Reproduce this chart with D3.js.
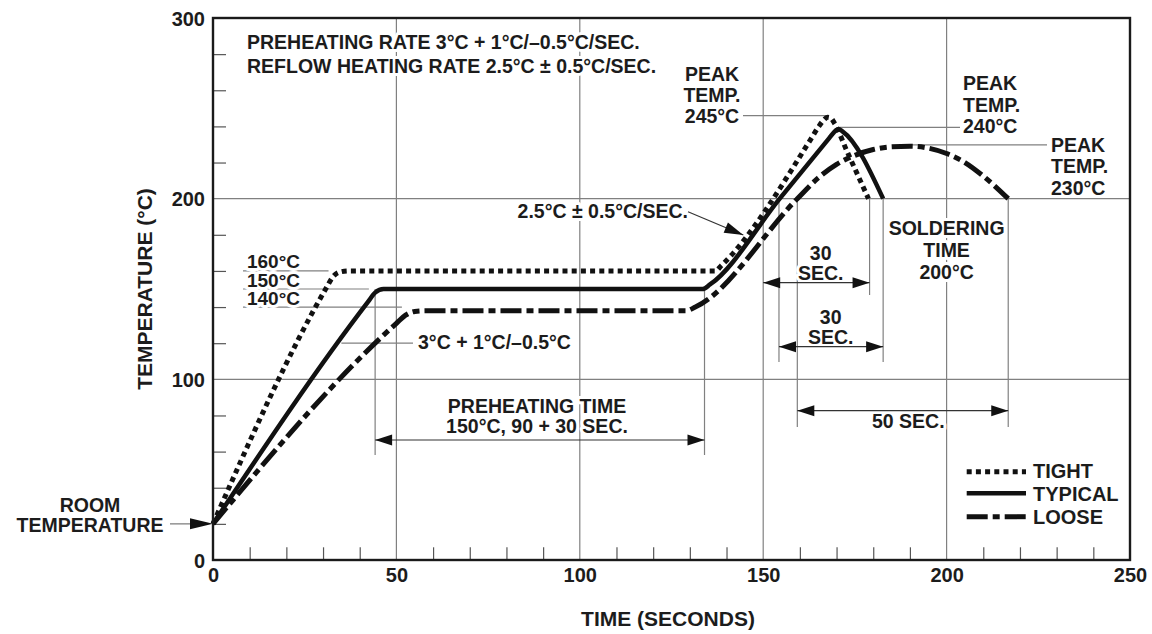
<!DOCTYPE html>
<html><head><meta charset="utf-8">
<script src="https://cdn.jsdelivr.net/npm/d3@7"></script>
<style>
body{margin:0;background:#fff}
text{font-family:"Liberation Sans",Arial,Helvetica,sans-serif;font-weight:bold;fill:#1c1c1c}
.halo{paint-order:stroke;stroke:#fff;stroke-width:6px;stroke-linejoin:round}
</style></head>
<body><svg id="c" width="1152" height="634"></svg>
<script>
// ---- data ----
const xTickLabels=[0,50,100,150,200,250];
const yTickLabels=[0,100,200,300];
const xMinor=[10,20,30,40,60,70,80,90,110,120,130,140,160,170,180,190,210,220,230,240];
const yMinor=[20,40,60,80,120,140,160,180,220,240,260,280];
const seriesNames=["TIGHT","TYPICAL","LOOSE"];
const tight=[[0,20],[31,151],[32.6,156.5],[34.5,159.3],[37,160],[137,160],[138.6,163],[163,233],[165,239.5],[166.5,243.5],[167.5,245],[168.5,244.5],[169.5,241.5],[172.7,226.9],[178.7,200]];
const typical=[[0,20],[42.3,143],[44.2,148],[46.5,150],[50,150],[133.5,150],[135.5,152.5],[154.5,200],[168,233.5],[169.4,237],[170.5,238.6],[171.6,237.3],[182.7,200]];
const loose=[[0,20],[50,131],[52.5,135.5],[55,137.6],[58,138],[129,138],[131.5,140],[159.3,200],[165,211.5],[170,219],[175,224],[180,227.2],[185,228.7],[190,229],[195,228],[200,225],[205,220],[210,212.5],[216.8,200]];
const roomTemp=20;
const peakLabels=[["PEAK","TEMP.","245°C"],["PEAK","TEMP.","240°C"],["PEAK","TEMP.","230°C"]];
const peakLeaderTemp=[246,239.5,229.8];

// ---- layout ----
const svg=d3.select("#c");
const x=d3.scaleLinear().domain([0,250]).range([213,1130]);
const y=d3.scaleLinear().domain([0,300]).range([560,18]);
const gray="#808080";

// gridlines
const grid=svg.append("g").attr("stroke",gray).attr("stroke-width",1.2);
[50,100,150,200].forEach(v=>grid.append("line").attr("x1",x(v)).attr("x2",x(v)).attr("y1",y(0)).attr("y2",y(300)));
[100,200].forEach(v=>grid.append("line").attr("y1",y(v)).attr("y2",y(v)).attr("x1",x(0)).attr("x2",x(250)));

// minor ticks (inward)
const gxm=svg.append("g").attr("transform",`translate(0,${y(0)})`)
  .call(d3.axisBottom(x).tickValues(xMinor).tickSize(-12.7).tickFormat(""));
gxm.select(".domain").remove();
gxm.selectAll("line").attr("stroke","#555").attr("stroke-width",1.2);
const gym=svg.append("g").attr("transform",`translate(${x(0)},0)`)
  .call(d3.axisLeft(y).tickValues(yMinor).tickSize(-13).tickFormat(""));
gym.select(".domain").remove();
gym.selectAll("line").attr("stroke","#555").attr("stroke-width",1.2);

// tick labels
const gx=svg.append("g").attr("transform",`translate(0,${y(0)})`)
  .call(d3.axisBottom(x).tickValues(xTickLabels).tickSize(0).tickPadding(22).tickFormat(d3.format("d")));
gx.select(".domain").remove();
gx.selectAll("text").style("font-size","20px").attr("fill","#1c1c1c").attr("dy","0");
const gy=svg.append("g").attr("transform",`translate(${x(0)},0)`)
  .call(d3.axisLeft(y).tickValues(yTickLabels).tickSize(0).tickPadding(8).tickFormat(d3.format("d")));
gy.select(".domain").remove();
gy.selectAll("text").style("font-size","20px").attr("fill","#1c1c1c").attr("dy","0.36em");

// axis titles
svg.append("text").attr("x",668).attr("y",626).attr("text-anchor","middle").style("font-size","21px").text("TIME (SECONDS)");
svg.append("text").attr("transform",`translate(152,${(y(0)+y(300))/2}) rotate(-90)`).attr("text-anchor","middle").style("font-size","21px").text("TEMPERATURE (°C)");

// helpers
function head(g,x1,y1,x2,y2,len=17,hw=5.5){
  const a=Math.atan2(y2-y1,x2-x1),c=Math.cos(a),s=Math.sin(a);
  const bx=x2-len*c,by=y2-len*s;
  g.append("path").attr("d",`M${x2},${y2}L${bx-hw*s},${by+hw*c}L${bx+hw*s},${by-hw*c}Z`).attr("fill","#111");
}
function vline(t,y1v,y2px){svg.append("line").attr("x1",x(t)).attr("x2",x(t)).attr("y1",y(y1v)).attr("y2",y2px).attr("stroke",gray).attr("stroke-width",1.2);}
function hline(x1,x2,yy){svg.append("line").attr("x1",x1).attr("x2",x2).attr("y1",yy).attr("y2",yy).attr("stroke",gray).attr("stroke-width",1.2);}
function label(lines,cx,baselines,anchor="middle",size=19.5){
  return lines.map((t,i)=>svg.append("text").attr("class","halo").attr("x",cx).attr("y",baselines[i]).attr("text-anchor",anchor).style("font-size",size+"px").text(t));
}

// dimension vertical lines
vline(44.2,150,455); vline(134,150,455);
vline(154.3,200,362); vline(182.7,200,362);
vline(159.3,200,427); vline(216.8,200,427);
vline(179,200,295);

// leader lines for preheat levels
hline(243,x(31.5),y(160)); hline(243,x(42.5),y(150)); hline(243,x(51.5),y(140));
hline(x(35),413,y(120));
// peak leaders
hline(743,x(167.3),y(peakLeaderTemp[0]));
hline(x(170.8),960,y(peakLeaderTemp[1]));
hline(x(190.5),1047,y(peakLeaderTemp[2]));

// curves
const line=d3.line().x(d=>x(d[0])).y(d=>y(d[1])).curve(d3.curveMonotoneX);
const styles=[{d:tight,dash:"5,4.2",w:5},{d:typical,dash:null,w:4.5},{d:loose,dash:"21,5,7,5",w:5}];
styles.forEach(s=>svg.append("path").datum(s.d).attr("d",line).attr("fill","none")
  .attr("stroke","#111").attr("stroke-width",s.w).attr("stroke-dasharray",s.dash).attr("stroke-linecap","butt").attr("stroke-linejoin","round"));

// texts
label(["PREHEATING RATE 3°C + 1°C/–0.5°C/SEC.","REFLOW HEATING RATE 2.5°C ± 0.5°C/SEC."],247,[49.3,73.3],"start");
label(["160°C","150°C","140°C"],247,[268.3,286.7,305],"start",17.5).forEach(t=>t.attr("textLength",53).attr("lengthAdjust","spacingAndGlyphs"));
label(["3°C + 1°C/–0.5°C"],418,[349.3],"start");
label(["PREHEATING TIME","150°C, 90 + 30 SEC."],537,[413.3,433.3]);
label(peakLabels[0],712,[80.7,101.7,122.7]);
label(peakLabels[1],963,[90,111.7,132.7],"start");
label(peakLabels[2],1051,[151.7,173.3,195],"start");
label(["2.5°C ± 0.5°C/SEC."],688,[218],"end");
label(["SOLDERING","TIME","200°C"],x(200),[235,257.3,279]);
label(["30","SEC."],820.7,[260,280]);
label(["30","SEC."],830.7,[324,344]);
label(["50 SEC."],908.3,[428]);
label(["ROOM","TEMPERATURE"],90,[511.7,532.3]);

// arrows
const ag=svg.append("g");
function dim(t1,t2,yy){
  ag.append("line").attr("x1",x(t1)).attr("x2",x(t2)).attr("y1",yy).attr("y2",yy).attr("stroke","#333").attr("stroke-width",1.2);
  head(ag,x(t2),yy,x(t1),yy); head(ag,x(t1),yy,x(t2),yy);
}
dim(44.2,134,440);
dim(150,179,282.7);
dim(154.3,182.7,346.7);
dim(159.3,216.8,410.7);
// 2.5 arrow
ag.append("line").attr("x1",688).attr("y1",211.7).attr("x2",743.3).attr("y2",235).attr("stroke","#333").attr("stroke-width",1.2);
head(ag,688,211.7,743.3,235,19,5.5);
// room temp arrow
ag.append("line").attr("x1",170).attr("x2",200).attr("y1",y(roomTemp)).attr("y2",y(roomTemp)).attr("stroke",gray).attr("stroke-width",1.3);
head(ag,170,y(roomTemp),x(0),y(roomTemp),23,5.5);

// legend
const lg=svg.append("g");
const legY=[471.7,493.3,516.7], legT=[478.3,501,524];
styles.forEach((s,i)=>{
  lg.append("line").attr("x1",966.7).attr("x2",1026).attr("y1",legY[i]).attr("y2",legY[i])
    .attr("stroke","#111").attr("stroke-width",s.w).attr("stroke-dasharray",s.dash);
  lg.append("text").attr("x",1033).attr("y",legT[i]).style("font-size","20px").text(seriesNames[i]);
});

// frame
svg.append("rect").attr("x",x(0)).attr("y",y(300)).attr("width",x(250)-x(0)).attr("height",y(0)-y(300))
  .attr("fill","none").attr("stroke","#1a1a1a").attr("stroke-width",2.4);
</script></body></html>
